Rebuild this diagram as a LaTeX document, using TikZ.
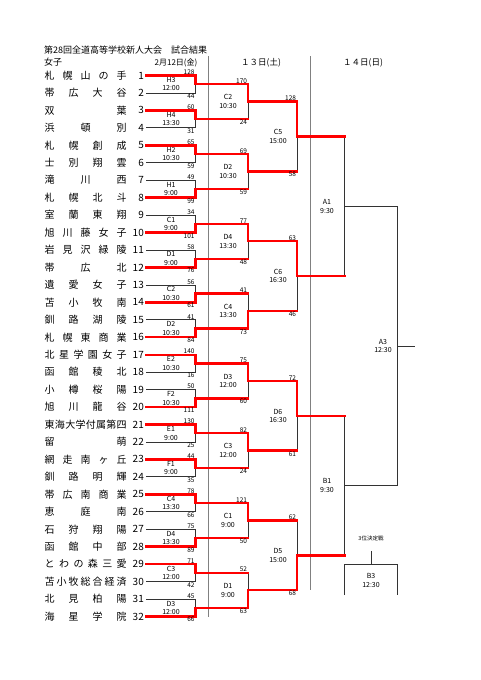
\documentclass[tikz,border=0pt]{standalone}
\usepackage{fontspec}
\setmainfont{Noto Sans CJK JP}
\usetikzlibrary{positioning, calc}
\makeatletter
% spread the characters of a school name over a fixed width
\newcommand\spreadname[1]{\makebox[82pt][s]{\let\sn@sep\relax
  \@tfor\sn@c:=#1\do{\sn@sep\sn@c\let\sn@sep\hfill}}}
\makeatother
\tikzset{
  % --- entries ---
  team/.style={anchor=west, inner sep=0pt, font=\fontsize{10}{10}\selectfont},
  seed/.style={anchor=east, inner ysep=0pt, inner xsep=2pt, font=\fontsize{10}{10}\selectfont},
  % --- match boxes ---
  game/.style={align=center, inner sep=0pt, font=\fontsize{7}{8.5}\selectfont},
  score/.style={inner xsep=0.8pt, inner ysep=0.6pt, font=\fontsize{6.5}{6.5}\selectfont},
  header/.style={inner sep=0pt, font=\fontsize{8.5}{8.5}\selectfont},
  % --- lines ---
  bracket/.style={line width=0.8pt, black!80},
  winpath/.style={line width=2.4pt, red, line cap=rect, line join=miter},
  divider/.style={line width=0.6pt, black!50},
}
\begin{document}
\begin{tikzpicture}[x=1pt, y=-1pt]
  \useasboundingbox (0,0) rectangle (481,680);
  % ---- Headers ----
  \node[header, anchor=west, font=\fontsize{9}{9}\selectfont] (title) at (44,50) {第28回全道高等学校新人大会　試合結果};
  \node[header, anchor=west, font=\fontsize{9}{9}\selectfont] (sex) at (44,62.5) {女子};
  \node[header, font=\fontsize{8}{8}\selectfont] (day1) at (176,63) {2月12日(金)};
  \node[header] (day2) at (261,63) {１３日(土)};
  \node[header] (day3) at (363,63) {１４日(日)};
  % ---- Day dividers ----
  \draw[divider] (208,56) -- (208,617);
  \draw[divider] (310,56) -- (310,590);
  % ---- Entries ----
  \foreach \i/\nm in {1/札幌山の手, 2/帯広大谷, 3/双葉, 4/浜頓別, 5/札幌創成, 6/士別翔雲,
      7/滝川西, 8/札幌北斗, 9/室蘭東翔, 10/旭川藤女子, 11/岩見沢緑陵, 12/帯広北,
      13/遺愛女子, 14/苫小牧南, 15/釧路湖陵, 16/札幌東商業, 17/北星学園女子, 18/函館稜北,
      19/小樽桜陽, 20/旭川龍谷, 21/東海大学付属第四, 22/留萌, 23/網走南ヶ丘, 24/釧路明輝,
      25/帯広南商業, 26/恵庭南, 27/石狩翔陽, 28/函館中部, 29/とわの森三愛, 30/苫小牧総合経済,
      31/北見柏陽, 32/海星学院}{
    \pgfmathsetmacro\y{75.5+(\i-1)*17.45}
    \node[team] (t\i) at (44.5,\y) {\expandafter\spreadname\expandafter{\nm}};
    \node[seed] (n\i) at (146,\y) {\i};
    \coordinate (m0-\i) at (n\i.east);
  }
  % ---- Match points (round r, match k) ----
  \foreach \r/\n in {1/16, 2/8, 3/4, 4/2, 5/1}{
    \pgfmathsetmacro\vx{{195.5,248,297,344.5,397}[\r-1]}
    \foreach \k in {1,...,\n}{
      \pgfmathsetmacro\vy{75.5+(2^\r*\k-2^(\r-1)-0.5)*17.45}
      \coordinate (m\r-\k) at (\vx,\vy);
    }
  }
  % ---- Bracket lines ----
  \foreach \r/\n in {1/16, 2/8, 3/4, 4/2, 5/1}{
    \foreach \k in {1,...,\n}{
      \pgfmathtruncatemacro\p{\r-1}
      \pgfmathtruncatemacro\ja{2*\k-1}
      \pgfmathtruncatemacro\jb{2*\k}
      \draw[bracket] (m\p-\ja) -| (m\r-\k);
      \draw[bracket] (m\p-\jb) -| (m\r-\k);
    }
  }
  \coordinate (champ) at ($(m5-1)+(18,0)$);
  \draw[bracket] (m5-1) -- (champ);
  % ---- Results: round/match/game/time/top/bottom/winner ----
  \foreach \r/\k/\g/\t/\a/\b/\s in {
      1/1/H3/12:00/128/44/1, 1/2/H4/13:30/60/31/1, 1/3/H2/10:30/65/59/1, 1/4/H1/9:00/49/99/2,
      1/5/C1/9:00/34/101/2, 1/6/D1/9:00/58/76/2, 1/7/C2/10:30/56/61/2, 1/8/D2/10:30/41/84/2,
      1/9/E2/10:30/140/16/1, 1/10/F2/10:30/50/111/2, 1/11/E1/9:00/130/25/1, 1/12/F1/9:00/44/35/1,
      1/13/C4/13:30/78/66/1, 1/14/D4/13:30/75/89/2, 1/15/C3/12:00/71/42/1, 1/16/D3/12:00/45/66/2,
      2/1/C2/10:30/170/24/1, 2/2/D2/10:30/69/59/1, 2/3/D4/13:30/77/48/1, 2/4/C4/13:30/41/73/2,
      2/5/D3/12:00/75/60/1, 2/6/C3/12:00/82/24/1, 2/7/C1/9:00/121/50/1, 2/8/D1/9:00/52/63/2,
      3/1/C5/15:00/128/58/1, 3/2/C6/16:30/63/46/1, 3/3/D6/16:30/72/61/1, 3/4/D5/15:00/62/68/2,
      4/1/A1/9:30/-/-/0, 4/2/B1/9:30/-/-/0, 5/1/A3/12:30/-/-/0}{
    \pgfmathtruncatemacro\p{\r-1}
    \pgfmathtruncatemacro\q{\r+1}
    \pgfmathtruncatemacro\ja{2*\k-1}
    \pgfmathtruncatemacro\jb{2*\k}
    \pgfmathtruncatemacro\w{2*\k-2+\s}
    \pgfmathtruncatemacro\kk{(\k+1)/2}
    \pgfmathsetmacro\dx{{24.5,20,19,17.5,14}[\r-1]}
    \ifnum\s>0
      \draw[winpath] (m\p-\w) -| (m\r-\k) -- (m\r-\k -| m\q-\kk);
      \node[score, anchor=south east] (sa\r-\k) at (m\r-\k |- m\p-\ja) {\a};
      \node[score, anchor=north east] (sb\r-\k) at (m\r-\k |- m\p-\jb) {\b};
    \fi
    \node[game] (g\r-\k) at ($(m\r-\k)+(-\dx,0)$) {\g\\\t};
  }
  % ---- Third place match ----
  \node[header, font=\fontsize{5.5}{5.5}\selectfont] (third) at (371,538) {3位決定戦};
  \coordinate (b3top) at (371,564.5);
  \coordinate (b3l) at (344.5,595);
  \coordinate (b3r) at (397,595);
  \draw[bracket] (third.south) ++(0,10) -- (b3top);
  \draw[bracket] (b3l) |- (b3top) -| (b3r);
  \node[game] (g-b3) at (371,580.5) {B3\\12:30};
\end{tikzpicture}
\end{document}
